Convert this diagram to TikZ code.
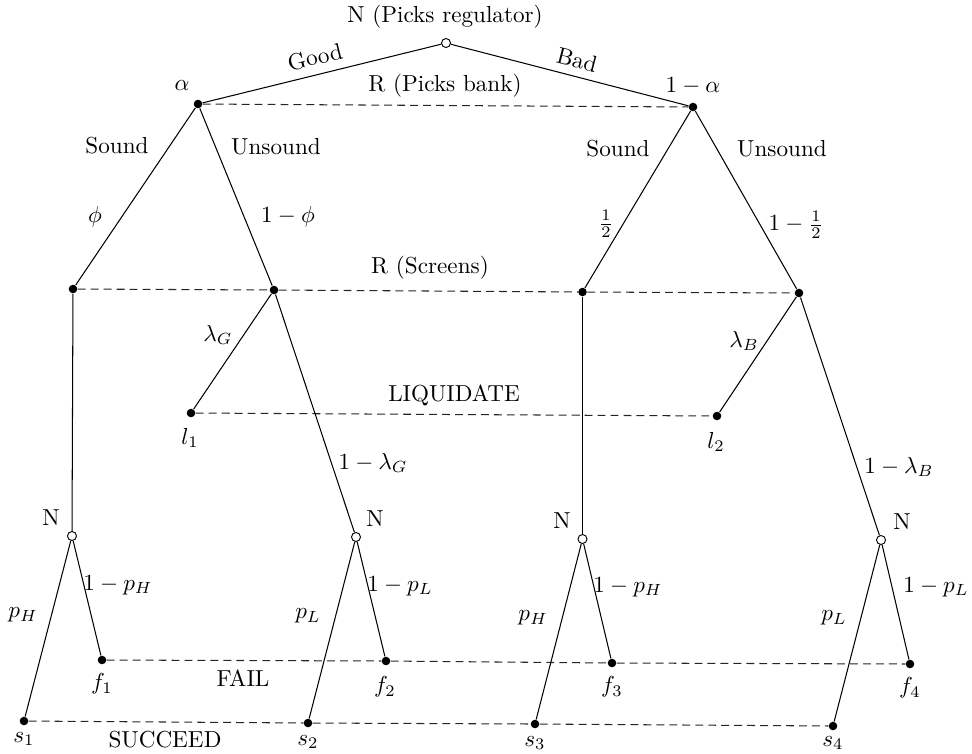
\documentclass[tikz,border=0pt]{standalone}
\begin{document}
\begin{tikzpicture}[x=0.432pt,y=-0.432pt,
  dot/.style={circle,fill=black,inner sep=0pt,minimum size=3.7pt},
  chance/.style={circle,draw=black,fill=white,inner sep=0pt,minimum size=3.9pt,line width=0.4pt},
  edge/.style={line width=0.45pt},
  info/.style={dash pattern=on 3.4pt off 2.2pt,line width=0.45pt,black!85},
  lbl/.style={inner sep=0pt}]
\useasboundingbox (0,0) rectangle (972,753);

% decision / chance nodes
\node[chance] (root) at (446,43) {};
\node[dot] (a) at (198,104) {};
\node[dot] (b) at (693,107) {};
\node[dot] (c1) at (73,289) {};
\node[dot] (c2) at (274,290) {};
\node[dot] (c3) at (582.5,292) {};
\node[dot] (c4) at (799,293) {};
\node[dot] (l1) at (191,413) {};
\node[dot] (l2) at (717,416) {};
\node[chance] (n1) at (72,536) {};
\node[chance] (n2) at (356,537) {};
\node[chance] (n3) at (582.5,539) {};
\node[chance] (n4) at (881,540) {};
\node[dot] (f1) at (102,660) {};
\node[dot] (f2) at (386,661) {};
\node[dot] (f3) at (612,663) {};
\node[dot] (f4) at (910,664) {};
\node[dot] (s1) at (24,721) {};
\node[dot] (s2) at (308,723) {};
\node[dot] (s3) at (535,724) {};
\node[dot] (s4) at (833,726) {};

% information sets
\draw[info] (a) -- (b);
\draw[info] (c1) -- (c2) -- (c3) -- (c4);
\draw[info] (l1) -- (l2);
\draw[info] (f1) -- (f2) -- (f3) -- (f4);
\draw[info] (s1) -- (s2) -- (s3) -- (s4);

% edges
\draw[edge] (root) -- (a);
\draw[edge] (root) -- (b);
\draw[edge] (a) -- (c1);
\draw[edge] (a) -- (c2);
\draw[edge] (b) -- (c3);
\draw[edge] (b) -- (c4);
\draw[edge] (c1) -- (n1);
\draw[edge] (c2) -- (l1);
\draw[edge] (c2) -- (n2);
\draw[edge] (c3) -- (n3);
\draw[edge] (c4) -- (l2);
\draw[edge] (c4) -- (n4);
\draw[edge] (n1) -- (s1);
\draw[edge] (n1) -- (f1);
\draw[edge] (n2) -- (s2);
\draw[edge] (n2) -- (f2);
\draw[edge] (n3) -- (s3);
\draw[edge] (n3) -- (f3);
\draw[edge] (n4) -- (s4);
\draw[edge] (n4) -- (f4);

% labels
\node[lbl] (tN) at (445,17) {N (Picks regulator)};
\node[lbl,rotate=13.8] (tgood) at (315,57) {Good};
\node[lbl,rotate=-14.5] (tbad) at (577,60) {Bad};
\node[lbl] (tRb) at (445,86) {R (Picks bank)};
\node[lbl] (talpha) at (182,86) {$\alpha$};
\node[lbl] (tnalpha) at (693,86) {$1-\alpha$};
\node[lbl] (ts1) at (117,146) {Sound};
\node[lbl] (tu1) at (276,147) {Unsound};
\node[lbl] (tphi) at (95,217) {$\phi$};
\node[lbl] (tnphi) at (288,217) {$1-\phi$};
\node[lbl] (ts2) at (618,149) {Sound};
\node[lbl] (tu2) at (782,149) {Unsound};
\node[lbl] (thalf) at (606,224) {$\frac{1}{2}$};
\node[lbl] (tnhalf) at (796,225) {$1-\frac{1}{2}$};
\node[lbl] (tRs) at (430,268) {R (Screens)};
\node[lbl] (tlg) at (218,335) {$\lambda_G$};
\node[lbl] (tlb) at (744,341) {$\lambda_B$};
\node[lbl] (tliq) at (454,395) {LIQUIDATE};
\node[lbl] (tl1) at (190,438) {$l_1$};
\node[lbl] (tl2) at (716,442) {$l_2$};
\node[lbl] (tnlg) at (373,463) {$1-\lambda_G$};
\node[lbl] (tnlb) at (899,467) {$1-\lambda_B$};
\node[lbl] (tN1) at (51,518) {N};
\node[lbl] (tN2) at (375,519) {N};
\node[lbl] (tN3) at (562,521) {N};
\node[lbl] (tN4) at (902,522) {N};
\node[lbl] (tq1) at (118,585) {$1-p_H$};
\node[lbl] (tq2) at (400,586) {$1-p_L$};
\node[lbl] (tq3) at (628,587) {$1-p_H$};
\node[lbl] (tq4) at (936,587) {$1-p_L$};
\node[lbl] (tp1) at (23,615) {$p_H$};
\node[lbl] (tp2) at (308,616) {$p_L$};
\node[lbl] (tp3) at (533,618) {$p_H$};
\node[lbl] (tp4) at (834,618) {$p_L$};
\node[lbl] (tf1) at (102,684) {$f_1$};
\node[lbl] (tf2) at (385,687) {$f_2$};
\node[lbl] (tf3) at (612,687) {$f_3$};
\node[lbl] (tf4) at (910,688) {$f_4$};
\node[lbl] (tfail) at (243,678) {FAIL};
\node[lbl] (tsa) at (24,739) {$s_1$};
\node[lbl] (tsb) at (308,742) {$s_2$};
\node[lbl] (tsc) at (535,743) {$s_3$};
\node[lbl] (tsd) at (833,743) {$s_4$};
\node[lbl] (tsucc) at (165,740) {SUCCEED};
\end{tikzpicture}
\end{document}
